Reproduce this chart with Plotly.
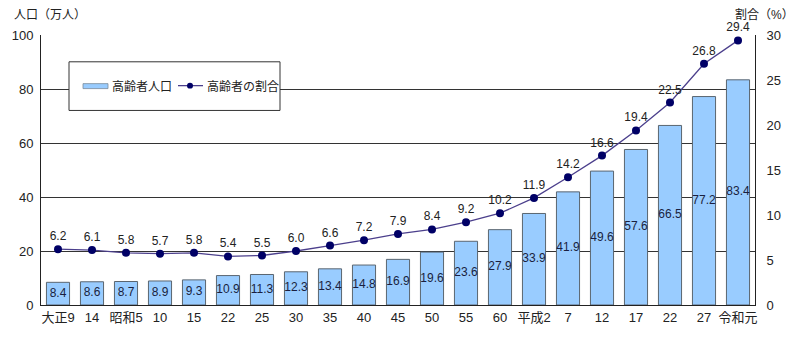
import plotly.graph_objects as go

# 高齢者人口（万人）と割合（%）
categories = ["大正9", "14", "昭和5", "10", "15", "22", "25", "30", "35", "40", "45",
              "50", "55", "60", "平成2", "7", "12", "17", "22", "27", "令和元"]
population = [8.4, 8.6, 8.7, 8.9, 9.3, 10.9, 11.3, 12.3, 13.4, 14.8, 16.9,
              19.6, 23.6, 27.9, 33.9, 41.9, 49.6, 57.6, 66.5, 77.2, 83.4]
ratio = [6.2, 6.1, 5.8, 5.7, 5.8, 5.4, 5.5, 6.0, 6.6, 7.2, 7.9,
         8.4, 9.2, 10.2, 11.9, 14.2, 16.6, 19.4, 22.5, 26.8, 29.4]
left_ticks = [0, 20, 40, 60, 80, 100]
right_ticks = [0, 5, 10, 15, 20, 25, 30]

W, H = 800, 337
ML, MR, MT, MB = 41, 45, 35, 30
PW, PH = W - ML - MR, H - MT - MB

FONT = "Arial, 'Liberation Sans', 'Noto Sans CJK JP', sans-serif"
BAR_FILL = "#99CCFF"
LINE_COL = "#4B3F8C"
MARK_COL = "#000066"

def px(x):
    return (x - ML) / PW

def py(y):
    return (H - MB - y) / PH

xs = list(range(len(categories)))

fig = go.Figure()

fig.add_trace(go.Bar(
    x=xs, y=population, name="高齢者人口",
    marker=dict(color=BAR_FILL, line=dict(color="#5a6570", width=1)),
    width=0.68, showlegend=False, hoverinfo="skip",
))

# 棒の中央に値を表示
fig.add_trace(go.Scatter(
    x=xs, y=[v / 2 for v in population], mode="text",
    text=[f"{v:.1f}" for v in population],
    textfont=dict(family=FONT, size=12, color="#1a1f40"),
    showlegend=False, hoverinfo="skip",
))

fig.add_trace(go.Scatter(
    x=xs, y=ratio, yaxis="y2", name="高齢者の割合",
    mode="lines+markers+text",
    line=dict(color=LINE_COL, width=1.3),
    marker=dict(color=MARK_COL, size=8),
    text=[f"{v:.1f}" for v in ratio], textposition="top center",
    textfont=dict(family=FONT, size=12, color="#222222"),
    cliponaxis=False, showlegend=False, hoverinfo="skip",
))

fig.update_layout(
    width=W, height=H,
    margin=dict(l=ML, r=MR, t=MT, b=MB),
    paper_bgcolor="white", plot_bgcolor="white",
    font=dict(family=FONT, size=13, color="#222222"),
    xaxis=dict(
        tickmode="array", tickvals=xs, ticktext=categories,
        range=[-0.5, len(categories) - 0.5],
        showgrid=False, showline=True, linecolor="#222", linewidth=1,
        ticks="", tickfont=dict(size=13),
    ),
    yaxis=dict(
        range=[0, 100], tickmode="array", tickvals=left_ticks,
        showgrid=True, gridcolor="#333", gridwidth=1, zeroline=False,
        showline=True, linecolor="#222", linewidth=1, ticks="",
        tickfont=dict(size=13), ticklabelstandoff=4,
    ),
    yaxis2=dict(
        range=[0, 30], tickmode="array", tickvals=right_ticks,
        overlaying="y", side="right", showgrid=False, zeroline=False,
        showline=True, linecolor="#222", linewidth=1, ticks="",
        tickfont=dict(size=13), ticklabelstandoff=8,
    ),
    showlegend=False,
)

# 軸タイトル
fig.add_annotation(text="人口（万人）", xref="paper", yref="paper",
                   x=px(12), y=py(15), xanchor="left", yanchor="middle",
                   showarrow=False, font=dict(size=12, color="#222"))
fig.add_annotation(text="割合（%）", xref="paper", yref="paper",
                   x=px(796), y=py(15), xanchor="right", yanchor="middle",
                   showarrow=False, font=dict(size=12, color="#222"))

# 凡例
fig.add_shape(type="rect", xref="paper", yref="paper",
              x0=px(69), x1=px(280), y0=py(111), y1=py(62),
              fillcolor="white", line=dict(color="#333", width=1))
fig.add_shape(type="rect", xref="paper", yref="paper",
              x0=px(83), x1=px(108), y0=py(89), y1=py(84),
              fillcolor=BAR_FILL, line=dict(color="#7a8a9a", width=0.8))
fig.add_annotation(text="高齢者人口", xref="paper", yref="paper",
                   x=px(110), y=py(87), xanchor="left", yanchor="middle",
                   showarrow=False, font=dict(size=12, color="#222"))
fig.add_shape(type="line", xref="paper", yref="paper",
              x0=px(178), x1=px(203), y0=py(86), y1=py(86),
              line=dict(color=LINE_COL, width=1.3))
fig.add_shape(type="circle", xref="paper", yref="paper",
              x0=px(187), x1=px(193), y0=py(89), y1=py(83),
              fillcolor=MARK_COL, line=dict(color=MARK_COL, width=0))
fig.add_annotation(text="高齢者の割合", xref="paper", yref="paper",
                   x=px(205), y=py(87), xanchor="left", yanchor="middle",
                   showarrow=False, font=dict(size=12, color="#222"))

fig.write_html("out.html")
